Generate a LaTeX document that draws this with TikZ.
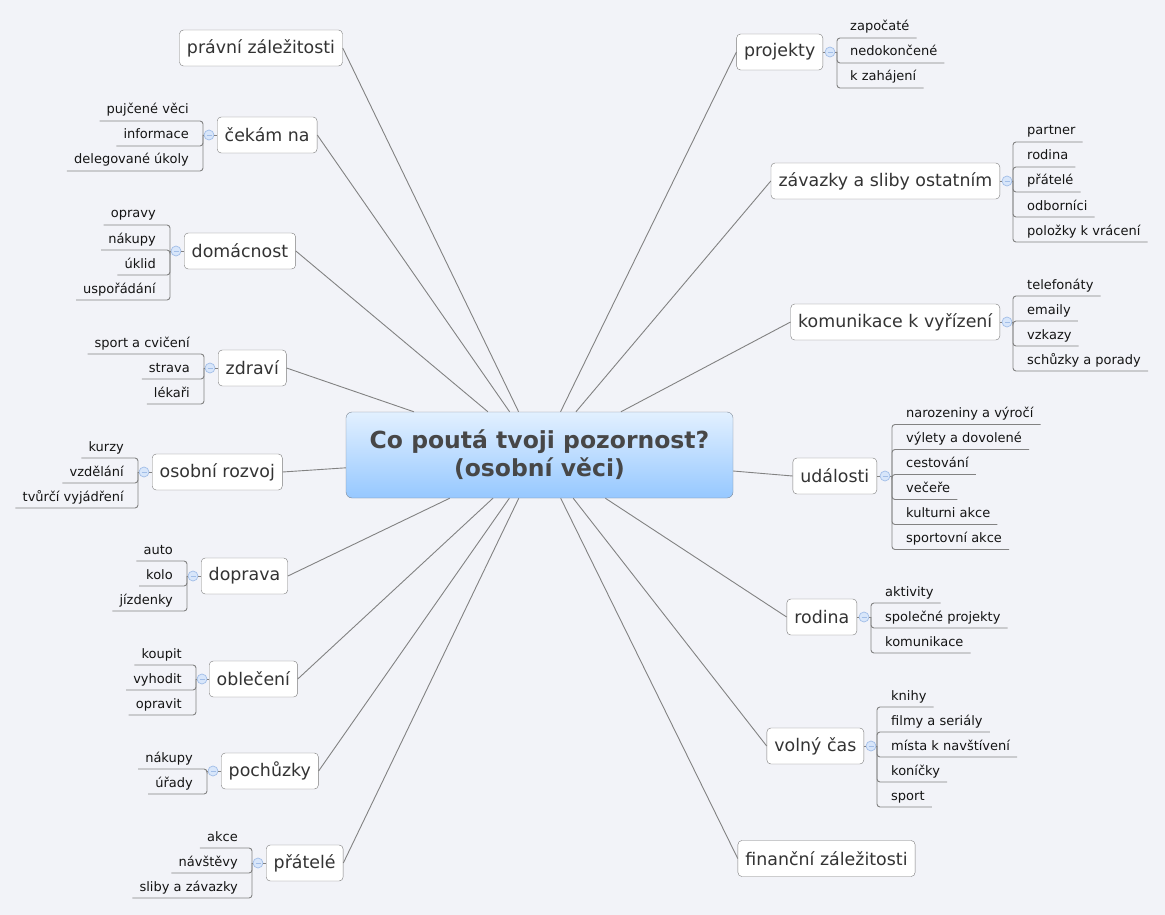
\documentclass[tikz,border=0pt]{standalone}
\usepackage{fontspec}
\setmainfont{DejaVu Sans}
\definecolor{pozadi}{HTML}{F2F3F8}
\definecolor{ramecek}{HTML}{7C7C7C}
\definecolor{vetev}{HTML}{828282}
\definecolor{textbarva}{HTML}{333333}
\definecolor{stredtext}{HTML}{474747}
\definecolor{stredhore}{HTML}{E2F0FF}
\definecolor{streddole}{HTML}{96C8FF}
\definecolor{stredramec}{HTML}{7E8894}
\definecolor{knobfill}{HTML}{D8E6FA}
\definecolor{knobline}{HTML}{A2BEE8}
\begin{document}
\begin{tikzpicture}[x=1pt,y=-1pt,
	topic/.style={draw=ramecek, fill=white, rounded corners=4pt, text=textbarva, font=\fontsize{17.4}{20}\selectfont, inner xsep=7.5pt, minimum height=36pt},
	sub/.style={font=\fontsize{13}{15}\selectfont, text=black!92, inner xsep=7pt, inner ysep=0pt},
	branch/.style={draw=vetev, line width=0.9pt},
	twig/.style={draw=vetev, line width=0.9pt},
	knob/.style={circle, inner sep=0pt, minimum size=10pt, fill=knobfill, draw=knobline, line width=0.7pt,
		path picture={\draw[knobline, line width=0.8pt] ([xshift=-2.5pt]path picture bounding box.center) -- ([xshift=2.5pt]path picture bounding box.center);}}]
	\fill[pozadi] (0,0) rectangle (1165,915);
	
	% central topic
	\node[draw=stredramec, rounded corners=6pt, top color=stredhore, bottom color=streddole, text=stredtext,
		font=\bfseries\fontsize{23.5}{28}\selectfont, align=center, minimum width=387pt, minimum height=86pt]
		(stred) at (539.5,455) {Co poutá tvoji pozornost?\\(osobní věci)};
	
	% left topics
	\node[topic] (prav) at (261,48) {právní záležitosti};
	\node[topic, anchor=west] (cek) at (217,135) {čekám na};
	\node[topic, anchor=west] (dom) at (184,251) {domácnost};
	\node[topic, anchor=west] (zdr) at (218,368) {zdraví};
	\node[topic, anchor=west] (ros) at (152,472) {osobní rozvoj};
	\node[topic, anchor=west] (dop) at (201,576) {doprava};
	\node[topic, anchor=west] (obl) at (209,679) {oblečení};
	\node[topic, anchor=west] (poch) at (221,771) {pochůzky};
	\node[topic, anchor=west] (prat) at (266,863) {přátelé};
	
	% right topics
	\node[topic, anchor=east] (proj) at (823,52) {projekty};
	\node[topic, anchor=east] (zav) at (1000,181) {závazky a sliby ostatním};
	\node[topic, anchor=east] (kom) at (1000,322) {komunikace k vyřízení};
	\node[topic, anchor=east] (udal) at (877,476) {události};
	\node[topic, anchor=east] (rod) at (857,617) {rodina};
	\node[topic, anchor=east] (vol) at (864,746) {volný čas};
	\node[topic] (fin) at (826.5,858.5) {finanční záležitosti};
	
	\foreach \k in {prav,cek,dom,zdr,ros,dop,obl,poch,prat}
		\draw[branch] (stred) -- (\k.east);
	\foreach \k in {proj,zav,kom,udal,rod,vol,fin}
		\draw[branch] (stred) -- (\k.west);
	
	% knobs and junctions, right
	\node[knob] (projK) at (830,52) {};    \coordinate (projJ) at (837,52);
	\node[knob] (zavK) at (1007,181) {};   \coordinate (zavJ) at (1013,181);
	\node[knob] (komK) at (1007,322) {};   \coordinate (komJ) at (1013,322);
	\node[knob] (udalK) at (885,476) {};   \coordinate (udalJ) at (892,476);
	\node[knob] (rodK) at (864,617) {};    \coordinate (rodJ) at (871,617);
	\node[knob] (volK) at (871,746) {};    \coordinate (volJ) at (877,746);
	\foreach \k in {proj,zav,kom,udal,rod,vol}
		\draw[twig] (\k.east) -- (\k K) -- (\k J);
	
	% knobs and junctions, left
	\node[knob] (cekK) at (209,135) {};    \coordinate (cekJ) at (203,135);
	\node[knob] (domK) at (176,251) {};    \coordinate (domJ) at (170,251);
	\node[knob] (zdrK) at (210,368) {};    \coordinate (zdrJ) at (204,368);
	\node[knob] (rosK) at (144,472) {};    \coordinate (rosJ) at (138,472);
	\node[knob] (dopK) at (193,576) {};    \coordinate (dopJ) at (187,576);
	\node[knob] (oblK) at (202,679) {};    \coordinate (oblJ) at (196,679);
	\node[knob] (pochK) at (213,771) {};   \coordinate (pochJ) at (207,771);
	\node[knob] (pratK) at (258,863) {};   \coordinate (pratJ) at (252,863);
	\foreach \k in {cek,dom,zdr,ros,dop,obl,poch,prat}
		\draw[twig] (\k.west) -- (\k K) -- (\k J);
	
	% subtopics, right
	\foreach \t [count=\n] in {započaté,nedokončené,k zahájení}{
		\node[sub, anchor=base west] (proj\n) at (843,6+25*\n) {\t};
		\draw[twig, rounded corners=3pt] (projJ) |- ([yshift=-7pt]proj\n.base east);
	}
	\foreach \t [count=\n] in {partner,rodina,přátelé,odborníci,položky k vrácení}{
		\node[sub, anchor=base west] (zav\n) at (1020,110+25*\n) {\t};
		\draw[twig, rounded corners=3pt] (zavJ) |- ([yshift=-7pt]zav\n.base east);
	}
	\foreach \t [count=\n] in {telefonáty,emaily,vzkazy,schůzky a porady}{
		\node[sub, anchor=base west] (kom\n) at (1020,264+25*\n) {\t};
		\draw[twig, rounded corners=3pt] (komJ) |- ([yshift=-7pt]kom\n.base east);
	}
	\foreach \t [count=\n] in {narozeniny a výročí,výlety a dovolené,cestování,večeře,kulturni akce,sportovní akce}{
		\node[sub, anchor=base west] (udal\n) at (899,392.5+25*\n) {\t};
		\draw[twig, rounded corners=3pt] (udalJ) |- ([yshift=-7pt]udal\n.base east);
	}
	\foreach \t [count=\n] in {aktivity,společné projekty,komunikace}{
		\node[sub, anchor=base west] (rod\n) at (878,571+25*\n) {\t};
		\draw[twig, rounded corners=3pt] (rodJ) |- ([yshift=-7pt]rod\n.base east);
	}
	\foreach \t [count=\n] in {knihy,filmy a seriály,místa k navštívení,koníčky,sport}{
		\node[sub, anchor=base west] (vol\n) at (884,675+25*\n) {\t};
		\draw[twig, rounded corners=3pt] (volJ) |- ([yshift=-7pt]vol\n.base east);
	}
	
	% subtopics, left
	\foreach \t [count=\n] in {pujčené věci,informace,delegované úkoly}{
		\node[sub, anchor=base east] (cek\n) at (196,89+25*\n) {\t};
		\draw[twig, rounded corners=3pt] (cekJ) |- ([yshift=-7pt]cek\n.base west);
	}
	\foreach \t [count=\n] in {opravy,nákupy,úklid,uspořádání}{
		\node[sub, anchor=base east] (dom\n) at (163,193+25*\n) {\t};
		\draw[twig, rounded corners=3pt] (domJ) |- ([yshift=-7pt]dom\n.base west);
	}
	\foreach \t [count=\n] in {sport a cvičení,strava,lékaři}{
		\node[sub, anchor=base east] (zdr\n) at (197,322+25*\n) {\t};
		\draw[twig, rounded corners=3pt] (zdrJ) |- ([yshift=-7pt]zdr\n.base west);
	}
	\foreach \t [count=\n] in {kurzy,vzdělání,tvůrčí vyjádření}{
		\node[sub, anchor=base east] (ros\n) at (131,426+25*\n) {\t};
		\draw[twig, rounded corners=3pt] (rosJ) |- ([yshift=-7pt]ros\n.base west);
	}
	\foreach \t [count=\n] in {auto,kolo,jízdenky}{
		\node[sub, anchor=base east] (dop\n) at (180,529+25*\n) {\t};
		\draw[twig, rounded corners=3pt] (dopJ) |- ([yshift=-7pt]dop\n.base west);
	}
	\foreach \t [count=\n] in {koupit,vyhodit,opravit}{
		\node[sub, anchor=base east] (obl\n) at (189,633+25*\n) {\t};
		\draw[twig, rounded corners=3pt] (oblJ) |- ([yshift=-7pt]obl\n.base west);
	}
	\foreach \t [count=\n] in {nákupy,úřady}{
		\node[sub, anchor=base east] (poch\n) at (200,737+25*\n) {\t};
		\draw[twig, rounded corners=3pt] (pochJ) |- ([yshift=-7pt]poch\n.base west);
	}
	\foreach \t [count=\n] in {akce,návštěvy,sliby a závazky}{
		\node[sub, anchor=base east] (prat\n) at (245,816+25*\n) {\t};
		\draw[twig, rounded corners=3pt] (pratJ) |- ([yshift=-7pt]prat\n.base west);
	}
\end{tikzpicture}
\end{document}
